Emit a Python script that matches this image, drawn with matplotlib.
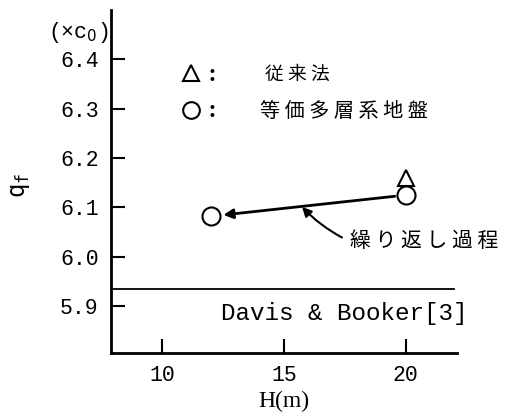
import matplotlib
matplotlib.use("Agg")
import matplotlib.pyplot as plt

# data
x_ticks = [10, 15, 20]
y_ticks = [5.9, 6.0, 6.1, 6.2, 6.3, 6.4]
conv_H = [20]
conv_q = [6.16]
equiv_H = [20, 12]
equiv_q = [6.125, 6.082]
davis_booker = 5.934

mono = "Liberation Mono"
cjk = ["Noto Sans CJK JP", "DejaVu Sans"]

fig = plt.figure(figsize=(5.12, 4.17), dpi=100)
ax = fig.add_axes([0.2168, 0.1535, 0.6758, 0.8225])
ax.set_xlim(7.9, 22.1)
ax.set_ylim(5.805, 6.50)
for s in ["top", "right"]:
    ax.spines[s].set_visible(False)
for s in ["left", "bottom"]:
    ax.spines[s].set_linewidth(2)

ax.set_xticks(x_ticks)
ax.set_yticks(y_ticks)
ax.set_xticklabels([str(v) for v in x_ticks], fontfamily=mono, fontsize=15.5)
ax.set_yticklabels([f"{v:.1f}" for v in y_ticks], fontfamily=mono, fontsize=15.5)
ax.tick_params(direction="in", length=10, width=1.5)
ax.tick_params(axis="x", pad=9)
ax.tick_params(axis="y", pad=9)

# reference line
ax.axhline(davis_booker, color="black", lw=1.3, xmin=0, xmax=0.99)
ax.text(12.4, davis_booker - 0.025, "Davis & Booker[3]", fontfamily=mono, fontsize=17.5, va="top", ha="left")

# markers
ax.plot(conv_H, conv_q, marker="^", ms=12, mfc="white", mec="black", mew=1.5, ls="none")
ax.plot(equiv_H, equiv_q, marker="o", ms=13, mfc="white", mec="black", mew=1.5, ls="none")

# iteration arrow
ax.annotate("", xy=(equiv_H[1], equiv_q[1]), xytext=(equiv_H[0], equiv_q[0]),
            arrowprops=dict(arrowstyle="-|>", lw=2, color="black", shrinkA=8, shrinkB=9,
                            mutation_scale=14))
ax.annotate("", xy=(15.74, 6.101), xytext=(17.38, 6.039),
            arrowprops=dict(arrowstyle="-|>", lw=1.5, color="black", shrinkA=0, shrinkB=0,
                            connectionstyle="arc3,rad=-0.08", mutation_scale=14))
ax.text(17.7, 6.031, "繰 り 返 し 過 程", fontfamily=cjk, fontsize=15, va="center", ha="left")

# legend
ax.plot([11.2], [6.372], marker="^", ms=11, mfc="white", mec="black", mew=1.5, ls="none")
ax.plot([11.2], [6.298], marker="o", ms=12, mfc="white", mec="black", mew=1.5, ls="none")
ax.text(11.9, 6.37, ":", fontfamily=cjk, fontsize=15, va="center", ha="left", fontweight="bold")
ax.text(11.9, 6.296, ":", fontfamily=cjk, fontsize=15, va="center", ha="left", fontweight="bold")
ax.text(14.2, 6.37, "従 来 法", fontfamily=cjk, fontsize=13.5, va="center", ha="left")
ax.text(14.0, 6.295, "等 価 多 層 系 地 盤", fontfamily=cjk, fontsize=14.5, va="center", ha="left")

# axis labels
fig.text(0.04, 0.555, "$\\mathtt{q_f}$", fontsize=17, rotation=90, ha="center", va="center")
fig.text(0.152, 0.923, "(×c$_0$)", fontfamily=mono, fontsize=15.5, ha="center", va="center")
ax.set_xlabel("H(m)", fontfamily="Liberation Serif", fontsize=17, labelpad=3)

fig.savefig("out.png", dpi=100)
